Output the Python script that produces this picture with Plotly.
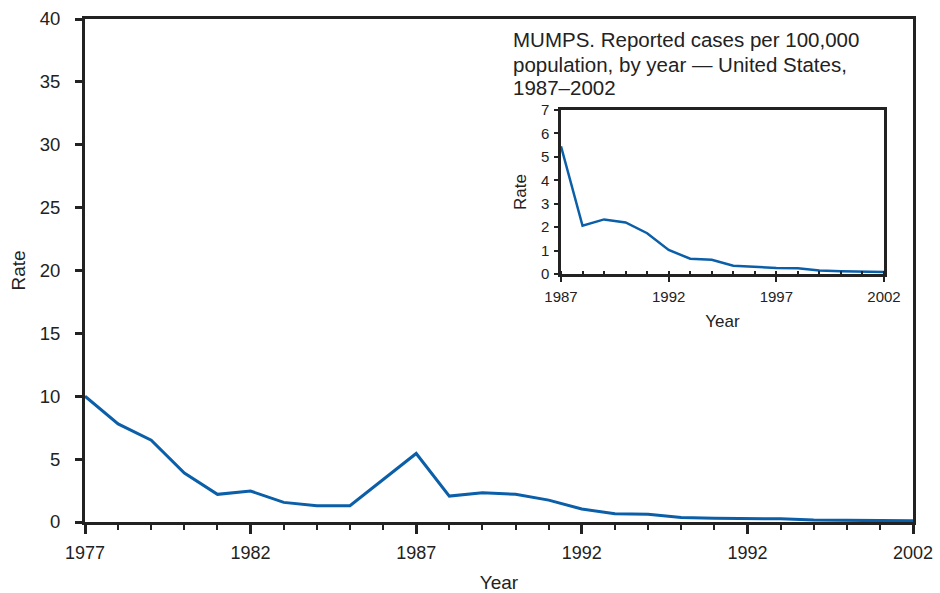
import plotly.graph_objects as go

# Mumps incidence, reported cases per 100,000 population
years = list(range(1977, 2003))
rates = [10.0, 7.8, 6.5, 3.9, 2.2, 2.46, 1.56, 1.3, 1.29, 3.4,
         5.45, 2.06, 2.33, 2.2, 1.74, 1.03, 0.65, 0.61, 0.35, 0.29,
         0.26, 0.25, 0.15, 0.12, 0.10, 0.09]

main_tickvals = [1977, 1982, 1987, 1992, 1997, 2002]
main_ticktext = ["1977", "1982", "1987", "1992", "1992", "2002"]
main_yticks = [0, 5, 10, 15, 20, 25, 30, 35, 40]

inset_start = 1987
inset_tickvals = [1987, 1992, 1997, 2002]
inset_ticktext = ["1987", "1992", "1997", "2002"]
inset_yticks = [0, 1, 2, 3, 4, 5, 6, 7]

title_lines = ["MUMPS. Reported cases per 100,000",
               "population, by year \u2014 United States,",
               "1987\u20132002"]

LINE = "#0b5ea8"
INK = "#222222"
FONT = "Liberation Sans, Arial, sans-serif"

i0 = years.index(inset_start)
inset_years = years[i0:]
inset_rates = rates[i0:]

fig = go.Figure()
fig.add_trace(go.Scatter(x=years, y=rates, mode="lines",
                         line=dict(color=LINE, width=3),
                         xaxis="x", yaxis="y", showlegend=False,
                         hoverinfo="skip"))
fig.add_trace(go.Scatter(x=inset_years, y=inset_rates, mode="lines",
                         line=dict(color=LINE, width=2.5),
                         xaxis="x2", yaxis="y2", showlegend=False,
                         hoverinfo="skip"))

W, H = 940, 593
L, R, T, B = 85, 27, 19, 71
pw, ph = W - L - R, H - T - B


def px_to_dom_x(a, b):
    return [(a - L) / pw, (b - L) / pw]


def px_to_dom_y(top, bottom):
    return [(H - B - bottom) / ph, (H - B - top) / ph]


def py_to_paper(y):
    return (H - B - y) / ph


fig.update_layout(
    width=W, height=H,
    margin=dict(l=L, r=R, t=T, b=B, autoexpand=False),
    paper_bgcolor="white", plot_bgcolor="white",
    font=dict(family=FONT, color=INK),
    xaxis=dict(
        domain=[0, 1], range=[1977, 2002], automargin=False,
        tickvals=main_tickvals, ticktext=main_ticktext,
        ticks="outside", ticklen=9, tickwidth=3, tickcolor=INK,
        ticklabelstandoff=3,
        minor=dict(dtick=1, tick0=1977, ticks="outside", ticklen=5,
                   tickwidth=2, tickcolor=INK, showgrid=False),
        showline=True, linecolor=INK, linewidth=3, mirror=True,
        showgrid=False, zeroline=False,
        tickfont=dict(size=18, color=INK),
        title=dict(text="Year", font=dict(size=19, color=INK), standoff=15),
    ),
    yaxis=dict(
        domain=[0, 1], range=[0, 40], automargin=False,
        tickvals=main_yticks,
        ticks="outside", ticklen=7, tickwidth=3, tickcolor=INK,
        ticklabelstandoff=11,
        showline=True, linecolor=INK, linewidth=3, mirror=True,
        showgrid=False, zeroline=False,
        tickfont=dict(size=18.5, color=INK),
        title=dict(text="Rate", font=dict(size=19, color=INK), standoff=10),
    ),
    xaxis2=dict(
        domain=px_to_dom_x(561, 884), anchor="y2", range=[1987, 2002],
        automargin=False,
        tickvals=inset_tickvals, ticktext=inset_ticktext,
        ticks="outside", ticklen=5, tickwidth=2, tickcolor=INK,
        ticklabelstandoff=2,
        minor=dict(dtick=1, tick0=1987, ticks="inside", ticklen=3,
                   tickwidth=1.5, tickcolor=INK, showgrid=False),
        showline=True, linecolor=INK, linewidth=2.5, mirror=True,
        showgrid=False, zeroline=False,
        tickfont=dict(size=15, color=INK),
        title=dict(text="Year", font=dict(size=17, color=INK), standoff=12),
    ),
    yaxis2=dict(
        domain=px_to_dom_y(110, 274), anchor="x2", range=[0, 7],
        automargin=False,
        tickvals=inset_yticks,
        ticks="outside", ticklen=4, tickwidth=2, tickcolor=INK,
        ticklabelstandoff=2,
        showline=True, linecolor=INK, linewidth=2.5, mirror=True,
        showgrid=False, zeroline=False,
        tickfont=dict(size=15, color=INK),
        title=dict(text="Rate", font=dict(size=17, color=INK), standoff=10),
    ),
    annotations=[
        dict(text=line, xref="paper", yref="paper",
             x=(511 - L) / pw, y=py_to_paper(40 + 24 * i),
             xanchor="left", yanchor="middle", align="left",
             showarrow=False,
             font=dict(size=20.5, color=INK, family=FONT))
        for i, line in enumerate(title_lines)
    ],
)

fig.write_html("out.html")
